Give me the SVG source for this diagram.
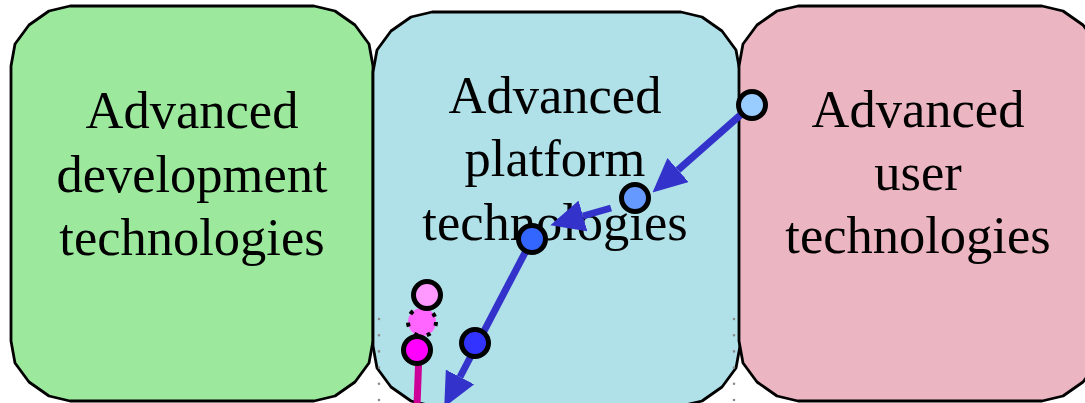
<svg xmlns="http://www.w3.org/2000/svg" width="1085" height="403" viewBox="0 0 1085 403">
  <defs>
    <style>
      .box { stroke: #000; stroke-width: 2.8; stroke-linejoin: round; }
      .label { font-family: "Liberation Serif", "Times New Roman", serif; font-size: 52.5px; fill: #000; text-anchor: middle; }
      .guide { stroke: #8a8a8a; stroke-width: 2.6; stroke-linecap: round; stroke-dasharray: 0 16.2; fill: none; }
      .flow { stroke: #3333cc; stroke-width: 7; fill: none; }
      .pin { stroke: #000; stroke-width: 5; }
    </style>
    <marker id="head" viewBox="0 0 34 32" refX="0" refY="16" markerWidth="34" markerHeight="32" markerUnits="userSpaceOnUse" orient="auto">
      <path d="M0,0 L34,16 L0,32 Z" fill="#3333cc"/>
    </marker>
  </defs>

  <!-- technology areas -->
  <g id="development">
    <path class="box" fill="#9ce99d" d="M11,66 L15,44 L29,25 L49,11 L70,6 L314,6 L335,11 L355,25 L369,44 L373,66 L373,341 L369,363 L355,382 L335,396 L314,401 L70,401 L49,396 L29,382 L15,363 L11,341 Z"/>
    <text class="label" x="192" y="128">Advanced</text>
    <text class="label" x="192" y="192">development</text>
    <text class="label" x="192" y="255">technologies</text>
  </g>
  <g id="platform">
    <path class="box" fill="#b0e1e8" d="M373,72 L377,50 L391,31 L411,17 L432,12 L681,12 L702,17 L722,31 L736,50 L740,72 L740,346 L736,368 L722,387 L702,401 L681,406 L432,406 L411,401 L391,387 L377,368 L373,346 Z"/>
    <text class="label" x="555" y="113">Advanced</text>
    <text class="label" x="555" y="176">platform</text>
    <text class="label" x="555" y="240">technologies</text>
  </g>
  <g id="user">
    <path class="box" fill="#ebb5c1" d="M739,66 L743,44 L757,25 L777,11 L798,6 L1042,6 L1063,11 L1083,25 L1097,44 L1101,66 L1101,341 L1097,363 L1083,382 L1063,396 L1042,401 L798,401 L777,396 L757,382 L743,363 L739,341 Z"/>
    <text class="label" x="918" y="127">Advanced</text>
    <text class="label" x="918" y="190">user</text>
    <text class="label" x="918" y="253">technologies</text>
  </g>

  <!-- lane guides -->
  <g id="guides">
    <line class="guide" x1="379" y1="319" x2="379" y2="410"/>
    <line class="guide" x1="734" y1="319" x2="734" y2="410"/>
  </g>

  <!-- connectors -->
  <g id="connectors">
    <path class="flow" d="M745,111 L678,170" marker-end="url(#head)"/>
    <path class="flow" d="M611,208 L583,216" marker-end="url(#head)"/>
    <path class="flow" d="M528,247 L460,377" marker-end="url(#head)"/>
    <path d="M419,352 L417,406" stroke="#cc0099" stroke-width="7" fill="none"/>
  </g>

  <!-- points -->
  <g id="point-blob">
    <circle cx="422" cy="322" r="14" fill="#ff66ff" stroke="#000" stroke-width="4" stroke-dasharray="4 9"/>
  </g>
  <g id="point-1"><circle class="pin" cx="752" cy="105" r="13.5" fill="#99ccff"/></g>
  <g id="point-2"><circle class="pin" cx="635" cy="198" r="13.5" fill="#6699ff"/></g>
  <g id="point-3"><circle class="pin" cx="532" cy="239" r="13.5" fill="#3366ff"/></g>
  <g id="point-4"><circle class="pin" cx="475" cy="343" r="13.5" fill="#3333ff"/></g>
  <g id="point-5"><circle class="pin" cx="427" cy="295" r="13.5" fill="#ff99ff"/></g>
  <g id="point-6"><circle class="pin" cx="417" cy="350" r="13.5" fill="#ff00ff"/></g>
</svg>
